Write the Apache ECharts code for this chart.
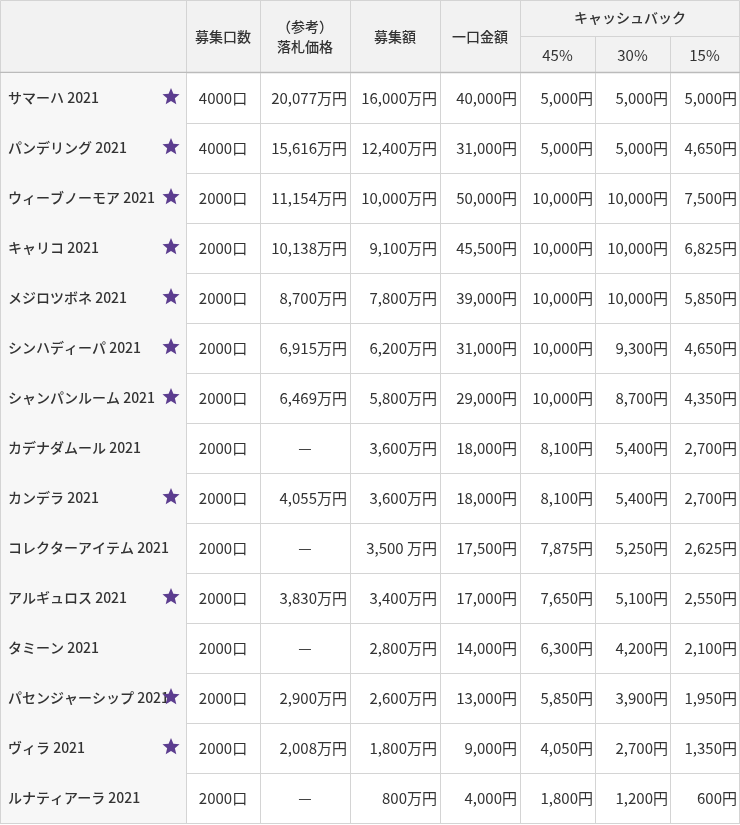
<!DOCTYPE html>
<html><head><meta charset="utf-8">
<script src="https://cdn.jsdelivr.net/npm/echarts@6/dist/echarts.min.js"></script>
<style>html,body{margin:0;padding:0;background:#fff}#c{width:740px;height:825px}</style>
</head><body><div id="c"></div>
<script>
const names=["サマーハ 2021","パンデリング 2021","ウィーブノーモア 2021","キャリコ 2021","メジロツボネ 2021","シンハディーパ 2021","シャンパンルーム 2021","カデナダムール 2021","カンデラ 2021","コレクターアイテム 2021","アルギュロス 2021","タミーン 2021","パセンジャーシップ 2021","ヴィラ 2021","ルナティアーラ 2021"];
const stars=[1,1,1,1,1,1,1,0,1,0,1,0,1,1,0];
const kuchi=["4000口","4000口","2000口","2000口","2000口","2000口","2000口","2000口","2000口","2000口","2000口","2000口","2000口","2000口","2000口"];
const price=["20,077万円","15,616万円","11,154万円","10,138万円","8,700万円","6,915万円","6,469万円","—","4,055万円","—","3,830万円","—","2,900万円","2,008万円","—"];
const amount=["16,000万円","12,400万円","10,000万円","9,100万円","7,800万円","6,200万円","5,800万円","3,600万円","3,600万円","3,500 万円","3,400万円","2,800万円","2,600万円","1,800万円","800万円"];
const unit=["40,000円","31,000円","50,000円","45,500円","39,000円","31,000円","29,000円","18,000円","18,000円","17,500円","17,000円","14,000円","13,000円","9,000円","4,000円"];
const cb45=["5,000円","5,000円","10,000円","10,000円","10,000円","10,000円","10,000円","8,100円","8,100円","7,875円","7,650円","6,300円","5,850円","4,050円","1,800円"];
const cb30=["5,000円","5,000円","10,000円","10,000円","10,000円","9,300円","8,700円","5,400円","5,400円","5,250円","5,100円","4,200円","3,900円","2,700円","1,200円"];
const cb15=["5,000円","4,650円","7,500円","6,825円","5,850円","4,650円","4,350円","2,700円","2,700円","2,625円","2,550円","2,100円","1,950円","1,350円","600円"];
const headers=["募集口数","（参考）\n落札価格","募集額","一口金額"];
const cbHeader="キャッシュバック";
const cbCols=["45%","30%","15%"];

const edges=[0,186,260,350,440,520,595,670,739];
const FONT='"Noto Sans CJK JP", sans-serif';
const TC='#333';
const LINE='#d4d4d4';
const chart=echarts.init(document.getElementById('c'));
const rowsIdx=names.map((_,i)=>i);

function txt(x,y,s,align,size,w){return {type:'text',style:{x:x,y:y,text:s,fill:TC,font:(w||'normal')+' '+(size||15)+'px '+FONT,align:align,verticalAlign:'middle'},silent:true};}

const graphic=[];
graphic.push({type:'rect',shape:{x:0,y:0,width:740,height:73},style:{fill:'#f2f2f2'}});
graphic.push({type:'rect',shape:{x:0.5,y:0.5,width:739,height:72},style:{fill:'none',stroke:LINE}});
for(let k=1;k<edges.length-1;k++){
  const top=(k>=6)?36:0;
  graphic.push({type:'line',shape:{x1:edges[k]+0.5,y1:top,x2:edges[k]+0.5,y2:73},style:{stroke:LINE}});
}
graphic.push({type:'line',shape:{x1:520,y1:36.5,x2:740,y2:36.5},style:{stroke:LINE}});
graphic.push({type:'line',shape:{x1:0,y1:72.5,x2:740,y2:72.5},style:{stroke:'#bbb',lineWidth:1.5}});
headers.forEach((h,i)=>{
  const cx=(edges[i+1]+edges[i+2])/2;
  graphic.push({type:'text',style:{x:cx,y:37,text:h,fill:TC,font:'500 14px '+FONT,align:'center',verticalAlign:'middle',lineHeight:20}});
});
graphic.push({type:'text',style:{x:630,y:18,text:cbHeader,fill:TC,font:'500 14px '+FONT,align:'center',verticalAlign:'middle'}});
cbCols.forEach((h,i)=>{
  graphic.push({type:'text',style:{x:(edges[5+i]+edges[6+i])/2,y:55,text:h,fill:TC,font:'15px '+FONT,align:'center',verticalAlign:'middle'}});
});

function starPath(cx,cy,R){const r=R*0.45;let p=[];for(let k=0;k<10;k++){const a=-Math.PI/2+k*Math.PI/5;const rr=k%2?r:R;p.push([cx+rr*Math.cos(a),cy+rr*Math.sin(a)]);}return p;}

chart.setOption({
  animation:false,
  grid:{left:0,right:0,top:73,bottom:2},
  xAxis:{type:'value',min:0,max:740,show:false},
  yAxis:{type:'category',data:rowsIdx,inverse:true,show:false},
  graphic:graphic,
  series:[{type:'custom',data:rowsIdx.map(i=>[0,i]),
    renderItem:function(params,api){
      const i=api.value(1);
      const c=api.coord([0,i]);const h=api.size([0,1])[1];
      const cy=c[1],top=cy-h/2,bot=cy+h/2;
      const ch=[];
      ch.push({type:'rect',shape:{x:0,y:top,width:186,height:h},style:{fill:'#f7f7f7'}});
      ch.push({type:'line',shape:{x1:0,y1:Math.round(bot)+0.5,x2:740,y2:Math.round(bot)+0.5},style:{stroke:LINE}});
      edges.forEach(e=>ch.push({type:'line',shape:{x1:e+0.5,y1:top,x2:e+0.5,y2:bot},style:{stroke:LINE}}));
      ch.push(txt(8,cy,names[i],'left',14,'500'));
      if(stars[i]) ch.push({type:'polygon',shape:{points:starPath(171,cy-1,9)},style:{fill:'#5c3d8f'}});
      ch.push(txt(223,cy,kuchi[i],'center'));
      ch.push(price[i]==='—'?txt(305,cy,'—','center'):txt(347,cy,price[i],'right'));
      ch.push(txt(437,cy,amount[i],'right'));
      ch.push(txt(517,cy,unit[i],'right'));
      ch.push(txt(593,cy,cb45[i],'right'));
      ch.push(txt(668,cy,cb30[i],'right'));
      ch.push(txt(737,cy,cb15[i],'right'));
      return {type:'group',children:ch};
    }}]
});
</script></body></html>
